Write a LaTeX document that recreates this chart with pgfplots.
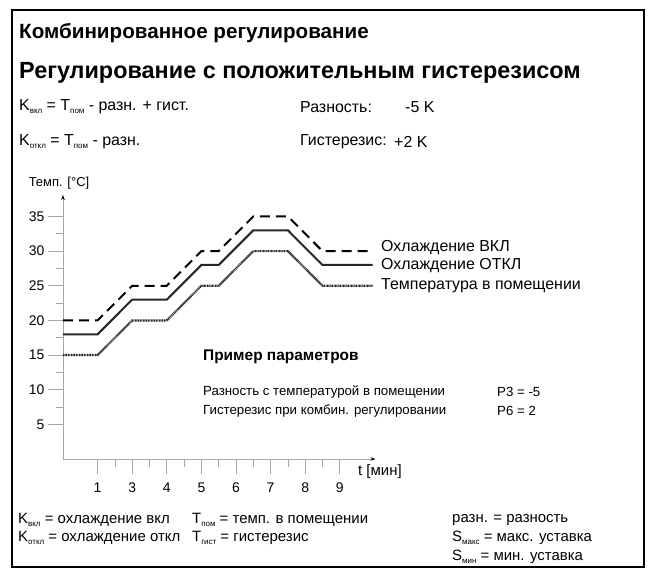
\documentclass[border=0pt]{standalone}
\usepackage{fontspec}
\setmainfont{Liberation Sans}
\usepackage{pgfplots}
\pgfplotsset{compat=1.18}
\usetikzlibrary{arrows.meta}
\newcommand{\sub}[1]{\raisebox{-3bp}{\fontsize{8}{8}\selectfont #1}}
\pgfplotstableread{
x y
0 20
1 20
2 25
3 25
4 30
4.5 30
5.5 35
6.5 35
7.5 30
8.95 30
}\coolon
\pgfplotstableread{
x y
0 18
1 18
2 23
3 23
4 28
4.5 28
5.5 33
6.5 33
7.5 28
8.95 28
}\cooloff
\pgfplotstableread{
x y
0 15
1 15
2 20
3 20
4 25
4.5 25
5.5 30
6.5 30
7.5 25
8.95 25
}\room
\begin{document}
\begin{tikzpicture}
\begin{scope}[x=1bp,y=-1bp]
\path[use as bounding box] (0,0) rectangle (648,575);
\draw[line width=2.5bp] (12,10) rectangle (644,567);
\node[anchor=west,inner sep=0pt,font=\fontsize{20.7}{20.7}\selectfont\bfseries] at (19,33) {Комбинированное регулирование};
\node[anchor=west,inner sep=0pt,font=\fontsize{23.5}{23.5}\selectfont\bfseries] at (19,73) {Регулирование с положительным гистерезисом};
\begin{scope}[every node/.style={anchor=west,inner sep=0pt,font=\fontsize{16}{16}\selectfont}]
\node at (19,107) {K\sub{вкл} = T\sub{пом} - разн. + гист.};
\node at (19,142) {K\sub{откл} = T\sub{пом} - разн.};
\node at (300,107) {Разность:};
\node at (405,107) {-5 K};
\node at (300,142) {Гистерезис:};
\node at (394,142) {+2 K};
\end{scope}
\node[inner sep=0pt,font=\fontsize{13}{13}\selectfont] at (59,183) {Темп. [°C]};
\begin{scope}[every node/.style={anchor=west,inner sep=0pt,font=\fontsize{16}{16}\selectfont}]
\node at (381,248) {Охлаждение ВКЛ};
\node at (381,266) {Охлаждение ОТКЛ};
\node at (381,286) {Температура в помещении};
\node[font=\fontsize{15.5}{15.5}\selectfont\bfseries] at (203,357) {Пример параметров};
\end{scope}
\begin{scope}[every node/.style={anchor=west,inner sep=0pt,font=\fontsize{13.3}{13.3}\selectfont}]
\node at (203,392) {Разность с температурой в помещении};
\node at (497,392) {P3 = -5};
\node at (203,411) {Гистерезис при комбин. регулировании};
\node at (497,411) {P6 = 2};
\end{scope}
\node[anchor=west,inner sep=0pt,font=\fontsize{15}{15}\selectfont] at (358,472) {t [мин]};
\begin{scope}[every node/.style={anchor=west,inner sep=0pt,font=\fontsize{15}{15}\selectfont}]
\node at (18,520) {K\sub{вкл} = охлаждение вкл};
\node at (18,538) {K\sub{откл} = охлаждение откл};
\node at (192,520) {T\sub{пом} = темп. в помещении};
\node at (192,538) {T\sub{гист} = гистерезис};
\node at (452,520) {разн. = разность};
\node at (452,538) {S\sub{макс} = макс. уставка};
\node at (452,557) {S\sub{мин} = мин. уставка};
\end{scope}
\end{scope}
\begin{axis}[
  at={(63bp,-459bp)}, anchor=south west,
  scale only axis, x=34.6bp, y=6.93bp,
  xmin=0, xmax=9.03, ymin=0, ymax=38.1,
  axis lines=left,
  axis line style={black!35, line width=0.8bp, -{Stealth[length=5bp,width=3.5bp,black]}},
  xtick={1,...,8}, xticklabels={1,3,4,5,6,7,8,9},
  minor xtick={1.5,2.5,...,7.5},
  ytick={5,10,...,35}, minor ytick={7.5,12.5,...,32.5},
  tick align=outside, major tick length=15bp, minor tick length=7.5bp,
  every tick/.style={black!35, line width=0.8bp},
  tick label style={font=\fontsize{14}{14}\selectfont, black},
  /pgf/number format/assume math mode=true,
  xticklabel style={yshift=-5bp},
  clip=false,
]
\addplot[black, line width=2bp, dash pattern=on 10bp off 6bp] table {\coolon};
\addplot[black!85, line width=2bp] table {\cooloff};
\addplot[black!85, line width=2.2bp, dash pattern=on 1bp off 0.6bp] table {\room};
\end{axis}
\end{tikzpicture}
\end{document}
